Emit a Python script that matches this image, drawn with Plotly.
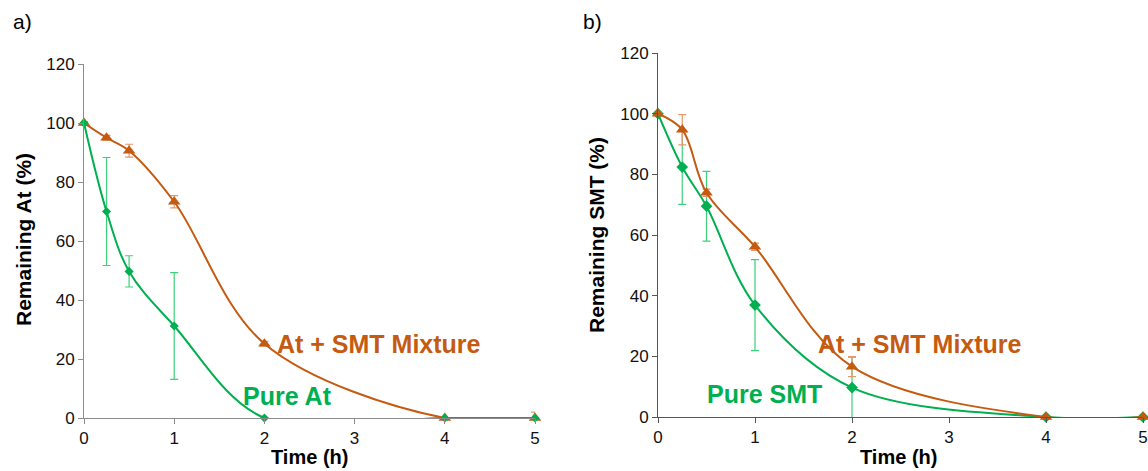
import plotly.graph_objects as go

# ---- data ----
time_h = [0, 0.25, 0.5, 1, 2, 4, 5]

a_pure_at = [100, 70, 49.7, 31.2, 0, 0, 0]
a_pure_at_err = [0, 18.3, 5.3, 18.1, 0, 0, 0]
a_mixture = [100, 95, 90.6, 73.3, 25.2, 0, 0]
a_mixture_err = [0.5, 0.8, 2.2, 2.1, 0.8, 0, 2]

b_pure_smt = [100, 82.4, 69.5, 36.9, 9.7, 0, 0]
b_pure_smt_err = [0, 12.3, 11.5, 15, 10, 0, 0]
b_mixture = [100, 94.7, 73.9, 56.1, 16.6, 0, 0]
b_mixture_err = [0.5, 5, 1.2, 1.2, 3.3, 0, 0]

x_ticks = [0, 1, 2, 3, 4, 5]
y_ticks = [0, 20, 40, 60, 80, 100, 120]

ORANGE = "#C55A11"
ORANGE_ERR = "#E3976A"
GREEN = "#00B050"
GREEN_ERR = "#3DD17A"
FONT = "Liberation Sans, Arial, sans-serif"

W, H = 1148, 471


def px_x(p):
    return p / W


def px_y(p):
    return 1 - p / H


fig = go.Figure()


def add_series(x, y, err, color, err_color, symbol, size, xa, ya):
    fig.add_trace(go.Scatter(
        x=x, y=y, mode="lines+markers",
        line=dict(color=color, width=2, shape="spline", smoothing=1),
        marker=dict(color=color, symbol=symbol, size=size),
        error_y=dict(type="data", array=err, visible=True, color=err_color,
                     thickness=1.2, width=4),
        cliponaxis=False, xaxis=xa, yaxis=ya, showlegend=False,
    ))


# Panel a: green on top
add_series(time_h, a_mixture, a_mixture_err, ORANGE, ORANGE_ERR, "triangle-up", 11, "x", "y")
add_series(time_h, a_pure_at, a_pure_at_err, GREEN, GREEN_ERR, "diamond", 7, "x", "y")
# Panel b: orange on top
add_series(time_h, b_pure_smt, b_pure_smt_err, GREEN, GREEN_ERR, "diamond", 9, "x2", "y2")
add_series(time_h, b_mixture, b_mixture_err, ORANGE, ORANGE_ERR, "triangle-up", 11, "x2", "y2")

axis_common = dict(
    showgrid=False, zeroline=False, showline=True, automargin=False,
    ticks="outside", ticklen=5, tickfont=dict(family=FONT, size=17, color="#111"),
)

fig.update_layout(
    width=W, height=H,
    margin=dict(l=0, r=0, t=0, b=0, autoexpand=False),
    paper_bgcolor="white", plot_bgcolor="white",
    xaxis=dict(**axis_common, range=[0, 5], domain=[px_x(84), px_x(535)],
               tickvals=x_ticks, linecolor="#8C8C8C", tickcolor="#8C8C8C", anchor="y"),
    yaxis=dict(**axis_common, range=[0, 120], domain=[px_y(418), px_y(64)],
               tickvals=y_ticks, linecolor="#8C8C8C", tickcolor="#8C8C8C", anchor="x"),
    xaxis2=dict(**axis_common, range=[0, 5], domain=[px_x(658), px_x(1143)],
                tickvals=x_ticks, linecolor="#555555", tickcolor="#555555", anchor="y2"),
    yaxis2=dict(**axis_common, range=[0, 120], domain=[px_y(417), px_y(53)],
                tickvals=y_ticks, linecolor="#555555", tickcolor="#555555", anchor="x2"),
)

ann = []
# panel labels
ann.append(dict(text="a)", x=px_x(11), y=px_y(22), xref="paper", yref="paper",
                xanchor="left", yanchor="middle", showarrow=False,
                font=dict(family=FONT, size=21, color="#000")))
ann.append(dict(text="b)", x=px_x(581), y=px_y(22), xref="paper", yref="paper",
                xanchor="left", yanchor="middle", showarrow=False,
                font=dict(family=FONT, size=21, color="#000")))
# axis titles
ann.append(dict(text="<b>Remaining At (%)</b>", x=px_x(23), y=px_y(240), xref="paper", yref="paper",
                textangle=-90, showarrow=False, xanchor="center", yanchor="middle",
                font=dict(family=FONT, size=21, color="#000")))
ann.append(dict(text="<b>Remaining SMT (%)</b>", x=px_x(596), y=px_y(235), xref="paper", yref="paper",
                textangle=-90, showarrow=False, xanchor="center", yanchor="middle",
                font=dict(family=FONT, size=21, color="#000")))
ann.append(dict(text="<b>Time (h)</b>", x=px_x(309), y=px_y(470), xref="paper", yref="paper",
                showarrow=False, xanchor="center", yanchor="bottom",
                font=dict(family=FONT, size=20, color="#000")))
ann.append(dict(text="<b>Time (h)</b>", x=px_x(899), y=px_y(470), xref="paper", yref="paper",
                showarrow=False, xanchor="center", yanchor="bottom",
                font=dict(family=FONT, size=20, color="#000")))
# series labels
ann.append(dict(text="<b>At + SMT Mixture</b>", x=2.12, y=25, xref="x", yref="y",
                showarrow=False, xanchor="left", yanchor="middle",
                font=dict(family=FONT, size=25, color=ORANGE)))
ann.append(dict(text="<b>Pure At</b>", x=1.74, y=7.3, xref="x", yref="y",
                showarrow=False, xanchor="left", yanchor="middle",
                font=dict(family=FONT, size=25, color=GREEN)))
ann.append(dict(text="<b>At + SMT Mixture</b>", x=1.63, y=24, xref="x2", yref="y2",
                showarrow=False, xanchor="left", yanchor="middle",
                font=dict(family=FONT, size=25, color=ORANGE)))
ann.append(dict(text="<b>Pure SMT</b>", x=0.48, y=7.6, xref="x2", yref="y2",
                showarrow=False, xanchor="left", yanchor="middle",
                font=dict(family=FONT, size=25, color=GREEN)))
fig.update_layout(annotations=ann)

fig.write_html("out.html", config={"displayModeBar": False},
               post_script="document.body.style.margin='0px';")
